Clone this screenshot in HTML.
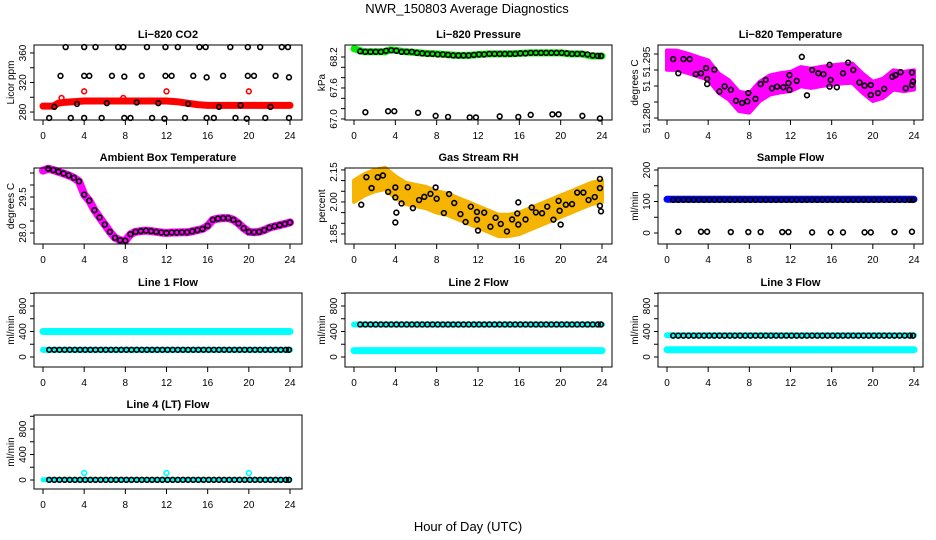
<!DOCTYPE html>
<html><head><meta charset="utf-8"><style>
html,body{margin:0;padding:0;background:#fff;}
svg{display:block;font-family:"Liberation Sans",sans-serif;}
</style></head><body>
<svg id="chart" width="936" height="540" viewBox="0 0 936 540">
<text x="467" y="13" font-size="13" text-anchor="middle">NWR_150803  Average Diagnostics</text>
<text x="468" y="531" font-size="13" text-anchor="middle">Hour of Day (UTC)</text>
</svg>
<script>
// ---------- data ----------
const H = [0.6,1.1,1.6,2.1,2.6,3.1,3.6,4.1,4.6,5.1,5.6,6.1,6.6,7.1,7.6,8.1,8.6,9.1,9.6,10.1,10.6,11.1,11.6,12.1,12.6,13.1,13.6,14.1,14.6,15.1,15.6,16.1,16.6,17.1,17.6,18.1,18.6,19.1,19.6,20.1,20.6,21.1,21.6,22.1,22.6,23.1,23.6,23.9];
const xTicks = [0,4,8,12,16,20,24];
// CO2
const co2LineH = [0,1,1.5,2,4,8,12,13,15,16,20,24];
const co2LineV = [288,288,292,293,295,295,295,294,290,289,289,289];
const co2RedOutH = [1.8,4,7.8,12,20];
const co2RedOutV = [299,308,299,308,308];
const co2HighH = [2.2,4,5.1,7.3,7.8,10.1,11.9,13.1,15.2,15.8,18.2,19.9,21.1,23.2,23.8];
const co2HighV = [368,368,368,368,368,368,368,368,368,368,368,368,368,368,368];
const co2MidH = [1.7,4,4.5,6.7,7.9,9.6,11.9,12.5,14.6,15.9,17.5,19.9,20.5,22.6,23.9];
const co2MidV = [329,329,329,329,328,329,329,329,329,327,329,329,329,329,327];
const co2LowH = [0.6,2.7,4,5.7,7.9,8.5,10.6,11.8,13.8,15.9,16.6,18.7,19.8,21.6,23.9];
const co2LowV = [272,272,272,272,272,272,272,271,272,272,272,272,271,272,272];
const co2NearH = [1.1,3.3,6.2,9.1,11.2,14.1,17.1,19.2,22.1];
const co2NearV = [287,291,292,293,292,291,287,289,287];
// Pressure
const presLineH = [0,0.5,1,3,3.5,4,5,7,8,10,11,13,15,17,20,21,22,23,24];
const presLineV = [68.36,68.33,68.30,68.30,68.34,68.33,68.30,68.27,68.26,68.23,68.23,68.26,68.26,68.28,68.28,68.26,68.26,68.22,68.22];
const presLowH = [1.1,3.3,3.9,6.2,7.9,9.1,11.2,11.8,14.1,15.9,17.1,19.2,19.8,22.1,23.8];
const presLowV = [67.13,67.15,67.15,67.12,67.06,67.04,67.03,67.03,67.05,67.04,67.08,67.09,67.09,67.06,67.01];
const presHiV = [68.31,68.30,68.30,68.30,68.30,68.32,68.33,68.32,68.30,68.30,68.30,68.28,68.27,68.26,68.26,68.25,68.25,68.24,68.23,68.23,68.23,68.23,68.24,68.25,68.25,68.26,68.26,68.26,68.26,68.26,68.26,68.27,68.27,68.28,68.28,68.28,68.28,68.28,68.28,68.28,68.27,68.26,68.26,68.26,68.25,68.23,68.22,68.22];
// Li-820 temperature
const tempBandH = [0,1,2,3,4,5,6,7,8,9,10,11,12,13,14,15,16,17,18,19,20,21,22,23,24];
const tempBandV = [51.2981,51.2980,51.2971,51.2960,51.2950,51.2909,51.2888,51.2852,51.2847,51.2883,51.2903,51.2910,51.2914,51.2929,51.2924,51.2930,51.2934,51.2938,51.2940,51.2909,51.2883,51.2893,51.2919,51.2914,51.2919];
const tempPtH = [0.6,1.1,1.6,2.2,2.8,3.3,3.8,3.9,3.9,4.6,5.1,5.6,6.2,6.7,7.3,7.8,7.9,8.6,9.1,9.6,10.2,10.7,11.3,11.8,11.9,11.9,12.6,13.1,13.6,14.1,14.7,15.2,15.8,15.9,15.8,16.5,17.1,17.6,18.1,18.7,19.2,19.8,19.8,20.5,21.1,21.9,22.2,22.7,23.2,23.8,23.8,23.9];
const tempPtV = [51.2984,51.2940,51.2984,51.2984,51.2937,51.2940,51.2956,51.2922,51.2906,51.2951,51.2883,51.2899,51.2888,51.2854,51.2847,51.2852,51.2878,51.2860,51.2906,51.2919,51.2893,51.2898,51.2896,51.2909,51.2934,51.2888,51.2916,51.2991,51.2871,51.2950,51.2940,51.2937,51.2966,51.2919,51.2898,51.2896,51.2940,51.2973,51.2950,51.2911,51.2901,51.2903,51.2872,51.2878,51.2891,51.2929,51.2934,51.2943,51.2893,51.2903,51.2942,51.2914];
// Ambient box temperature
const ambH = [0,0.5,1,1.5,2,2.5,3,3.5,4,4.5,5,5.5,6,6.5,7,7.5,8,8.5,9,9.5,10,10.5,11,11.5,12,12.5,13,13.5,14,14.5,15,15.5,16,16.5,17,17.5,18,18.5,19,19.5,20,20.5,21,21.5,22,22.5,23,23.5,24];
const ambV = [30.6,30.68,30.62,30.55,30.48,30.4,30.3,30.15,29.6,29.35,28.95,28.65,28.35,28.05,27.8,27.7,27.68,27.95,28.05,28.08,28.1,28.08,28.05,28.02,28.0,28.02,28.02,28.03,28.03,28.07,28.12,28.17,28.3,28.55,28.6,28.62,28.62,28.55,28.4,28.2,28.05,28.03,28.05,28.12,28.22,28.28,28.33,28.38,28.44];
// Gas stream RH
const rhBandH = [0,1,2,3,4,5,6,7,8,9,10,11,12,13,14,15,16,17,18,19,20,21,22,23,24];
const rhBandV = [2.05,2.08,2.10,2.11,2.07,2.04,2.03,2.02,2.0,1.99,1.97,1.95,1.93,1.91,1.89,1.89,1.90,1.92,1.94,1.96,1.98,2.0,2.02,2.04,2.05];
const rhPtH = [0.7,1.2,1.7,2.3,2.8,3.3,4.0,4.0,4.1,4.0,4.6,5.2,5.7,6.3,6.8,7.4,7.9,8.0,8.7,9.2,9.7,10.3,10.8,11.3,11.9,11.9,12.0,12.6,13.2,13.7,14.2,14.8,15.3,15.8,15.9,15.9,16.6,17.2,17.6,18.2,18.7,19.3,19.8,19.9,20.0,20.5,21.1,21.6,22.2,22.7,23.3,23.8,23.8,23.8,23.9];
const rhPtV = [1.987,2.116,2.065,2.116,2.124,2.047,2.068,2.021,1.95,1.904,1.993,2.069,1.971,2.009,2.024,2.038,2.068,2.015,1.948,2.037,1.995,1.943,1.906,1.978,1.953,1.917,1.866,1.95,1.884,1.926,1.897,1.862,1.918,1.946,1.998,1.894,1.918,1.974,1.951,1.947,1.978,1.917,2.005,1.959,1.894,1.987,1.99,2.044,2.044,2.009,2.023,1.982,2.065,2.108,1.956];
// Sample flow
const sampLineH = [0,24];
const sampLineV = [107,107];
const sampLowH = [1.1,3.3,3.9,6.2,7.9,9.1,11.2,11.8,14.1,15.9,17.1,19.2,19.8,22.1,23.8];
const sampLowV = [4,4,4,3,3,3,3,3,2,2,2,2,2,3,4];
// Line flows
const flowCyanH = [0,24];
const l1CyanA = [400,400];
const l1CyanB = [112,112];
const l1Black = 113;
const l2CyanA = [510,510];
const l2CyanB = [100,100];
const l2Black = 510;
const l3CyanA = [340,340];
const l3CyanB = [115,115];
const l3Black = 335;
const l4CyanA = [5,5];
const l4Black = 3;
const l4OutH = [4,12,20];
const l4OutV = [110,110,110];

// ---------- drawing ----------
const NS = 'http://www.w3.org/2000/svg';
const svg = document.getElementById('chart');
const cols = [[34,302,43,290],[345,612,354,602],[658,923,667,914]];
const rows = [[45,120],[168,244],[293,367],[415,489]];
function mk(tag, attrs, parent){
  const e = document.createElementNS(NS, tag);
  for (const k in attrs) e.setAttribute(k, attrs[k]);
  parent.appendChild(e);
  return e;
}
function panel(name, title, c, r, ymin, ymax, yticks, ylabs, ytitle){
  const [bx0,bx1,x0,x24] = cols[c];
  const [by0,by1] = rows[r];
  const g = mk('g', {}, svg);
  
  
  const sx = v => x0 + v * (x24 - x0) / 24;
  const sy = v => by1 - (v - ymin) / (ymax - ymin) * (by1 - by0);
  const t = mk('text', {x:(bx0+bx1)/2, y:by0-7, 'font-size':11, 'font-weight':'bold', 'text-anchor':'middle'}, g);
  
  
  t.textContent = title;
  const marks = mk('g', {}, g);
  
  
  const box = mk('rect', {x:bx0, y:by0, width:bx1-bx0, height:by1-by0, fill:'none', stroke:'#000', 'stroke-width':1}, g);
  
  
  const xa = mk('g', {}, g);
  
  
  xTicks.forEach(v => {
    mk('line', {x1:sx(v), x2:sx(v), y1:by1, y2:by1+5, stroke:'#000'}, xa);
    const tl = mk('text', {x:sx(v), y:by1+19, 'font-size':10, 'text-anchor':'middle'}, xa);
    tl.textContent = v;
  });
  const ya = mk('g', {}, g);
  
  
  yticks.forEach(v => mk('line', {x1:bx0-4, x2:bx0, y1:sy(v), y2:sy(v), stroke:'#000'}, ya));
  ylabs.forEach(([v, s]) => {
    const tl = mk('text', {x:0, y:0, 'font-size':10, 'text-anchor':'middle', transform:`translate(${bx0-8},${sy(v)}) rotate(-90)`}, ya);
    tl.textContent = s;
  });
  const yt = mk('text', {x:0, y:0, 'font-size':10, 'text-anchor':'middle', transform:`translate(${bx0-20},${(by0+by1)/2}) rotate(-90)`}, g);
  
  
  yt.textContent = ytitle;
  return {g: marks, sx, sy};
}
function line(p, hs, vs, color, w){
  const pts = hs.map((h,i) => p.sx(h).toFixed(1) + ',' + p.sy(vs[i]).toFixed(1)).join(' ');
  const e = mk('polyline', {points:pts, fill:'none', stroke:color, 'stroke-width':w, 'stroke-linejoin':'round', 'stroke-linecap':'round'}, p.g);
  
  
}
function band(p, hs, vs, half, color){
  const up = hs.map((h,i) => p.sx(h).toFixed(1) + ',' + p.sy(vs[i] + half).toFixed(1));
  const dn = hs.map((h,i) => p.sx(h).toFixed(1) + ',' + p.sy(vs[i] - half).toFixed(1)).reverse();
  const e = mk('polygon', {points:up.concat(dn).join(' '), fill:color, stroke:color, 'stroke-width':4, 'stroke-linejoin':'round'}, p.g);
  
  
}
function pts(p, hs, vs, color){
  hs.forEach((h,i) => {
    const v = Array.isArray(vs) ? vs[i] : vs;
    const e = mk('circle', {cx:p.sx(h), cy:p.sy(v), r:2.4, fill:'none', stroke:color, 'stroke-width':1.6}, p.g);
    
    
  });
}
const flowTicks = [0,200,400,600,800,1000];
const flowLabs = [[0,'0'],[400,'400'],[800,'800']];

let p = panel('co2', 'Li\u2212820 CO2', 0, 0, 269.2, 370.8, [280,300,320,340,360], [[280,'280'],[320,'320'],[360,'360']], 'Licor ppm');
line(p, co2LineH, co2LineV, '#ff0000', 7);
pts(p, co2RedOutH, co2RedOutV, '#ff0000');
pts(p, co2HighH, co2HighV, '#000');
pts(p, co2MidH, co2MidV, '#000');
pts(p, co2LowH, co2LowV, '#000');
pts(p, co2NearH, co2NearV, '#000');

p = panel('pressure', 'Li\u2212820 Pressure', 1, 0, 66.98, 68.432, [67.0,67.2,67.4,67.6,67.8,68.0,68.2], [[67.0,'67.0'],[67.6,'67.6'],[68.2,'68.2']], 'kPa');
line(p, presLineH, presLineV, '#00ee00', 7);
pts(p, H, presHiV, '#000');
pts(p, presLowH, presLowV, '#000');

p = panel('li820-temp', 'Li\u2212820 Temperature', 2, 0, 51.27938, 51.30281, [51.280,51.285,51.290,51.295,51.300], [[51.280,'51.280'],[51.290,'51'],[51.2975,'51.295']], 'degrees C');
band(p, tempBandH, tempBandV, 0.003, '#ff00ff');
pts(p, tempPtH, tempPtV, '#000');

p = panel('ambient-temp', 'Ambient Box Temperature', 0, 1, 27.542, 30.708, [28.0,28.5,29.0,29.5,30.0,30.5], [[28.0,'28.0'],[29.5,'29.5']], 'degrees C');
line(p, ambH, ambV, '#ff00ff', 8);
pts(p, ambH.slice(1), ambV.slice(1), '#000');

p = panel('gas-rh', 'Gas Stream RH', 1, 1, 1.803, 2.159, [1.85,1.90,1.95,2.00,2.05,2.10,2.15], [[1.85,'1.85'],[2.00,'2.00'],[2.14,'2.15']], 'percent');
band(p, rhBandH, rhBandV, 0.05, '#f5b400');
pts(p, rhPtH, rhPtV, '#000');

p = panel('sample-flow', 'Sample Flow', 2, 1, -34.9, 206.3, [0,50,100,150,200], [[0,'0'],[100,'100'],[200,'200']], 'ml/min');
line(p, sampLineH, sampLineV, '#0000ff', 7);
pts(p, H, 105, '#000');
pts(p, sampLowH, sampLowV, '#000');

p = panel('line1-flow', 'Line 1 Flow', 0, 2, -157, 1004, flowTicks, flowLabs, 'ml/min');
line(p, flowCyanH, l1CyanA, '#00ffff', 7);
line(p, flowCyanH, l1CyanB, '#00ffff', 6);
pts(p, H, l1Black, '#000');

p = panel('line2-flow', 'Line 2 Flow', 1, 2, -157, 1004, flowTicks, flowLabs, 'ml/min');
line(p, flowCyanH, l2CyanA, '#00ffff', 6);
line(p, flowCyanH, l2CyanB, '#00ffff', 7);
pts(p, H, l2Black, '#000');

p = panel('line3-flow', 'Line 3 Flow', 2, 2, -157, 1004, flowTicks, flowLabs, 'ml/min');
line(p, flowCyanH, l3CyanA, '#00ffff', 6);
line(p, flowCyanH, l3CyanB, '#00ffff', 7);
pts(p, H, l3Black, '#000');

p = panel('line4-flow', 'Line 4 (LT) Flow', 0, 3, -141, 1020, flowTicks, flowLabs, 'ml/min');
line(p, flowCyanH, l4CyanA, '#00ffff', 5);
pts(p, l4OutH, l4OutV, '#00ffff');
pts(p, H, l4Black, '#000');
</script>
</body></html>
